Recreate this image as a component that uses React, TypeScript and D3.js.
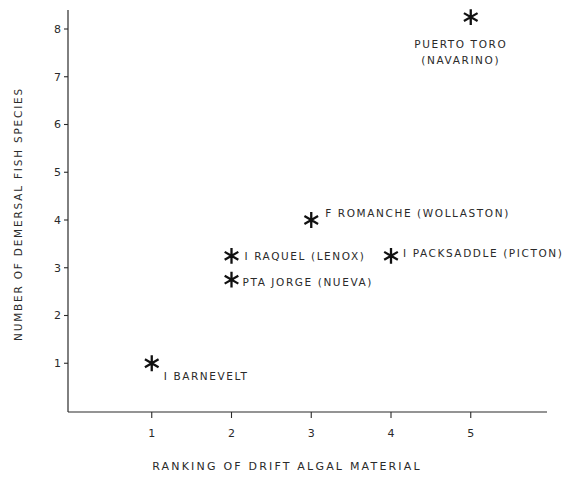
import React from "react";
import * as d3 from "d3";

// values
const sites = [
  "I BARNEVELT",
  "I RAQUEL (LENOX)",
  "PTA JORGE (NUEVA)",
  "F ROMANCHE (WOLLASTON)",
  "I PACKSADDLE (PICTON)",
  "PUERTO TORO|(NAVARINO)",
];
const algalRank = [1, 2, 2, 3, 4, 5];
const fishSpecies = [1, 3.25, 2.75, 4, 3.25, 8.25];
const xTicks = [1, 2, 3, 4, 5];
const yTicks = [1, 2, 3, 4, 5, 6, 7, 8];

// label placement per site: [dx, dy, anchor]
const labelPos: [number, number, string][] = [
  [12, 13, "start"],
  [13, 1, "start"],
  [11, 3, "start"],
  [14, -7, "start"],
  [12, -2, "start"],
  [-10, 27, "middle"],
];

const W = 577;
const H = 477;
const ink = "#2a2a2a";
const font = "'DejaVu Sans', 'Liberation Sans', sans-serif";

export default function App() {
  const x = d3.scaleLinear().domain([0, 6]).range([72, 550.5]);
  const y = d3.scaleLinear().domain([0, 8]).range([411, 29]);
  const star = d3.symbol().type(d3.symbolAsterisk).size(175)() || "";

  const axisX0 = 68;
  const axisY0 = 412;

  return (
    <svg
      width={W}
      height={H}
      style={{ position: "absolute", left: 0, top: 0, background: "#fff" }}
    >
      {/* y axis */}
      <line x1={axisX0} x2={axisX0} y1={axisY0} y2={10} stroke={ink} strokeWidth={1.2} />
      {yTicks.map((t) => (
        <g key={t} transform={`translate(0,${y(t)})`}>
          <line x1={axisX0 - 4} x2={axisX0} stroke={ink} strokeWidth={1.1} />
          <text
            x={axisX0 - 7}
            dy="0.35em"
            textAnchor="end"
            fontFamily={font}
            fontSize={11}
            fill={ink}
          >
            {t}
          </text>
        </g>
      ))}

      {/* x axis */}
      <line x1={axisX0} x2={547} y1={axisY0} y2={axisY0} stroke={ink} strokeWidth={1.2} />
      {xTicks.map((t) => (
        <g key={t} transform={`translate(${x(t)},0)`}>
          <line y1={axisY0} y2={axisY0 + 6} stroke={ink} strokeWidth={1.1} />
          <text
            y={axisY0 + 25}
            textAnchor="middle"
            fontFamily={font}
            fontSize={11}
            fill={ink}
          >
            {t}
          </text>
        </g>
      ))}

      {/* axis titles */}
      <text
        x={287}
        y={470}
        textAnchor="middle"
        fontFamily={font}
        fontSize={11}
        letterSpacing={2.2}
        fill={ink}
      >
        RANKING OF DRIFT ALGAL MATERIAL
      </text>
      <text
        transform="translate(22,214) rotate(-90)"
        textAnchor="middle"
        fontFamily={font}
        fontSize={10.5}
        letterSpacing={1.8}
        fill={ink}
      >
        NUMBER OF DEMERSAL FISH SPECIES
      </text>

      {/* points */}
      {sites.map((s, i) => {
        const cx = x(algalRank[i]);
        const cy = y(fishSpecies[i]);
        const [dx, dy, anchor] = labelPos[i];
        const lines = s.split("|");
        return (
          <g key={s}>
            <path
              d={star}
              transform={`translate(${cx},${cy})`}
              fill="none"
              stroke="#111"
              strokeWidth={2.3}
            />
            {lines.map((ln, j) => (
              <text
                key={j}
                x={cx + dx}
                y={cy + dy + j * 16}
                dy="0.35em"
                textAnchor={anchor}
                fontFamily={font}
                fontSize={10.5}
                letterSpacing={1.6}
                fill={ink}
              >
                {ln}
              </text>
            ))}
          </g>
        );
      })}
    </svg>
  );
}
